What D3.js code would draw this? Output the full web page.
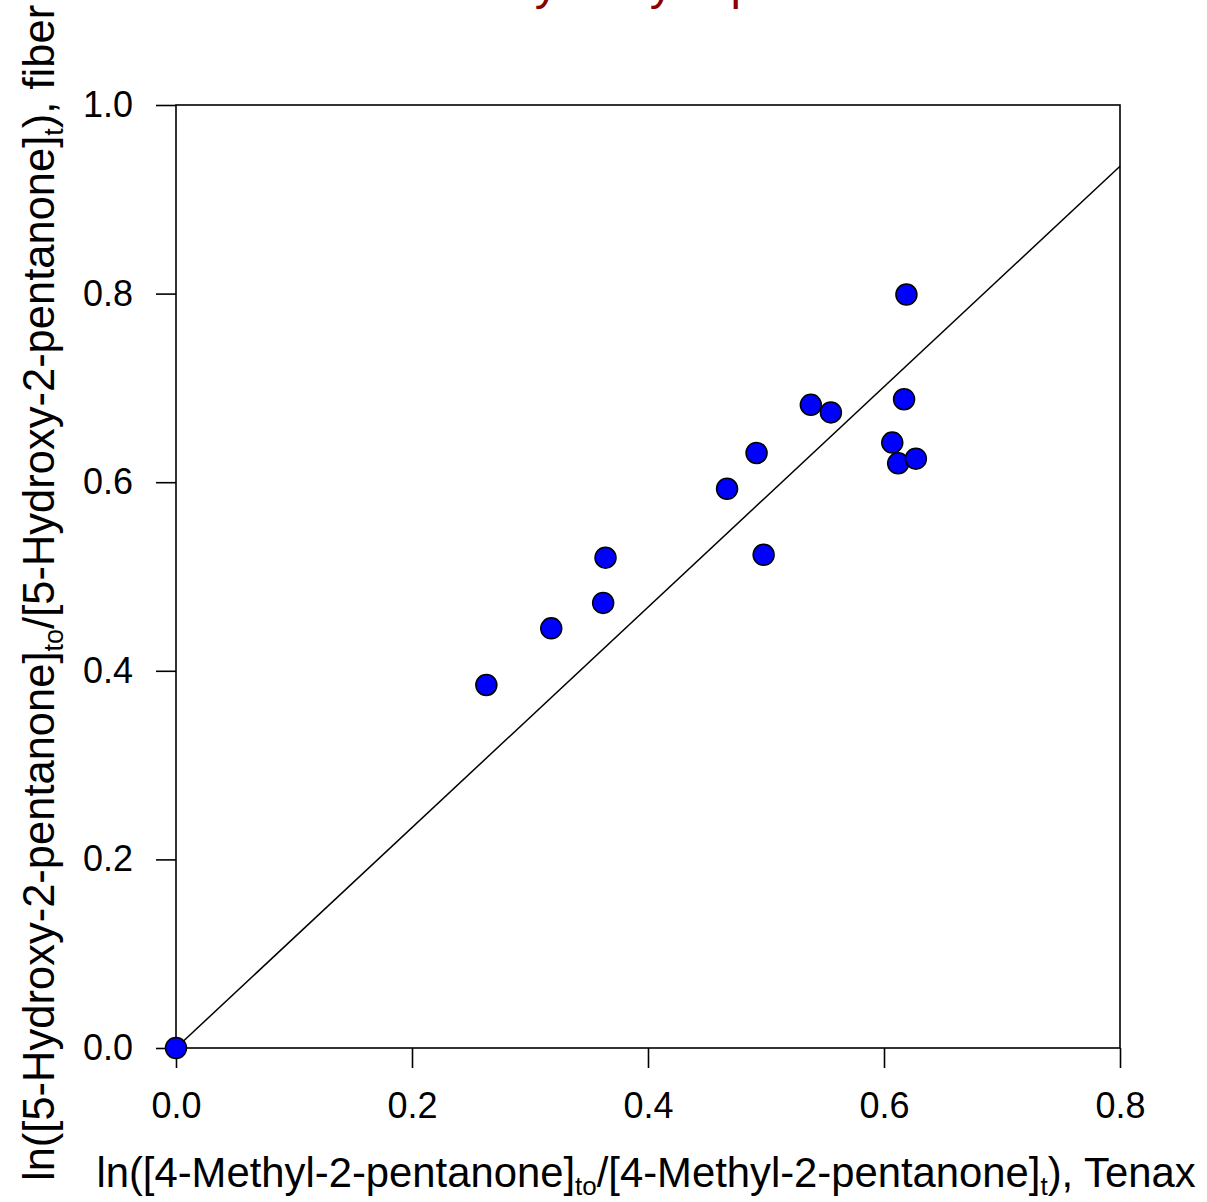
<!DOCTYPE html>
<html>
<head>
<meta charset="utf-8">
<script src="https://cdn.jsdelivr.net/npm/d3@7"></script>
<style>
    body { margin: 0; background: #fff; }
    svg text { font-family: "Liberation Sans", Arial, sans-serif; }
</style>
</head>
<body>
<svg id="chart" viewBox="0 0 1207 1202" width="1207" height="1202"></svg>
<script>
// values
let tenaxX = [0.000, 0.263, 0.318, 0.362, 0.364, 0.467, 0.492, 0.498, 0.538, 0.555, 0.607, 0.612, 0.617, 0.627, 0.619]
let fiberY = [0.000, 0.385, 0.445, 0.472, 0.520, 0.593, 0.631, 0.523, 0.682, 0.674, 0.642, 0.620, 0.688, 0.625, 0.799]
let fitX = [0, 0.8]
let fitY = [0, 0.935]
let xTicks = [0.0, 0.2, 0.4, 0.6, 0.8]
let yTicks = [0.0, 0.2, 0.4, 0.6, 0.8, 1.0]
let titleText = "5-Hydroxy-2-pentanone"

function draw(svg)
{
    let margin = {left: 176, top: 105, right: 87, bottom: 154}
    let width = parseInt(svg.attr("viewBox").split(' ')[2])
    let height = parseInt(svg.attr("viewBox").split(' ')[3])

    let x = d3.scaleLinear().domain([0, 0.8]).range([margin.left, width - margin.right])
    let y = d3.scaleLinear().domain([0, 1.0]).range([height - margin.bottom, margin.top])

    let points = tenaxX.map((d, i) => ({x: d, y: fiberY[i]}))

    // axes with outward ticks
    let xAxis = svg.append("g")
        .attr("transform", `translate(0,${y(0)})`)
        .call(d3.axisBottom(x).tickValues(xTicks).tickFormat(d3.format(".1f")).tickSize(20).tickPadding(24))
    let yAxis = svg.append("g")
        .attr("transform", `translate(${x(0)},0)`)
        .call(d3.axisLeft(y).tickValues(yTicks).tickFormat(d3.format(".1f")).tickSize(20).tickPadding(23))
    for (let ax of [xAxis, yAxis]) {
        ax.select(".domain").remove()
        ax.selectAll("line").attr("stroke", "#000").attr("stroke-width", 1.6)
        ax.selectAll("text").attr("fill", "#000").style("font-size", "36px")
    }

    // frame
    svg.append("rect")
        .attr("x", x(0)).attr("y", y(1))
        .attr("width", x(0.8) - x(0)).attr("height", y(0) - y(1))
        .attr("fill", "none").attr("stroke", "#000").attr("stroke-width", 1.6)

    // fitted line
    svg.append("line")
        .attr("x1", x(fitX[0])).attr("y1", y(fitY[0]))
        .attr("x2", x(fitX[1])).attr("y2", y(fitY[1]))
        .attr("stroke", "#000").attr("stroke-width", 1.5)

    svg.append("g")
        .selectAll("circle")
        .data(points)
        .enter()
        .append("circle")
        .attr("cx", d => x(d.x))
        .attr("cy", d => y(d.y))
        .attr("r", 10.5)
        .attr("fill", "#0000ff")
        .attr("stroke", "#000")
        .attr("stroke-width", 1.5)

    // title, mostly above the visible area (as in the original)
    svg.append("text")
        .attr("x", 459).attr("y", -1)
        .attr("fill", "#8b0000")
        .style("font-size", "47px")
        .text(titleText)

    // x label
    let xl = svg.append("text")
        .attr("x", (x(0) + x(0.8)) / 2 - 2).attr("y", 1187)
        .attr("text-anchor", "middle")
        .style("font-size", "41.8px")
    xl.append("tspan").text("ln([4-Methyl-2-pentanone]")
    xl.append("tspan").attr("dy", 8).style("font-size", "26px").text("to")
    xl.append("tspan").attr("dy", -8).text("/[4-Methyl-2-pentanone]")
    xl.append("tspan").attr("dy", 8).style("font-size", "26px").text("t")
    xl.append("tspan").attr("dy", -8).text("), Tenax")

    // y label
    let yl = svg.append("text")
        .attr("transform", "translate(54,1181) rotate(-90)")
        .attr("text-anchor", "start")
        .style("font-size", "43.5px")
    yl.append("tspan").text("ln([5-Hydroxy-2-pentanone]")
    yl.append("tspan").attr("dy", 9).style("font-size", "27px").text("to")
    yl.append("tspan").attr("dy", -9).text("/[5-Hydroxy-2-pentanone]")
    yl.append("tspan").attr("dy", 9).style("font-size", "27px").text("t")
    yl.append("tspan").attr("dy", -9).text("), fiber")
}

draw(d3.select("#chart"))
</script>
</body>
</html>
